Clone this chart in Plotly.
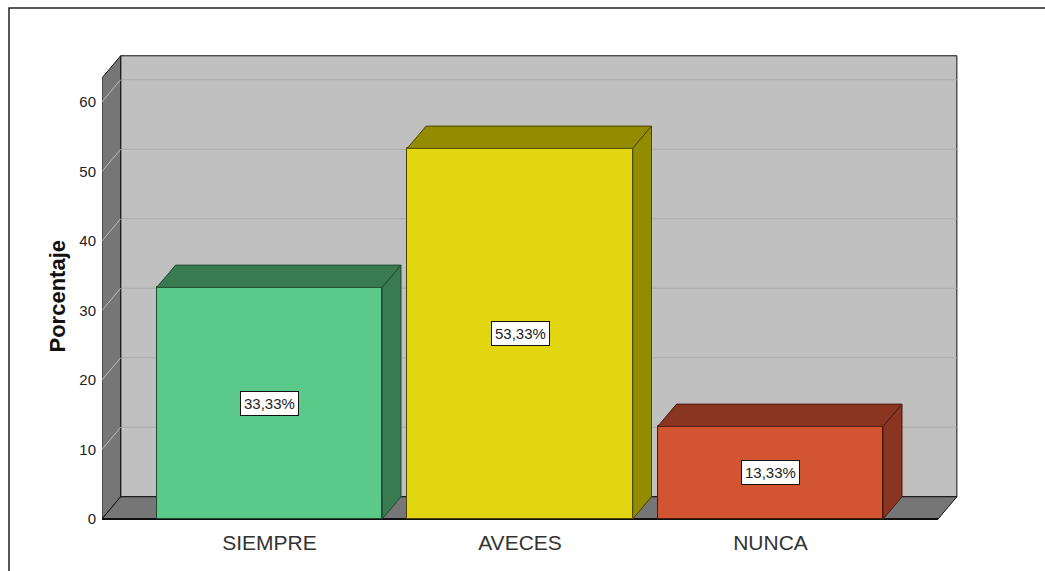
import plotly.graph_objects as go

categories = ["SIEMPRE", "AVECES", "NUNCA"]
values = [33.33, 53.33, 13.33]
value_labels = ["33,33%", "53,33%", "13,33%"]
y_ticks = [0, 10, 20, 30, 40, 50, 60]

front_colors = ["#5BC98A", "#E2D610", "#D25430"]
dark_colors = ["#3A7A52", "#948C00", "#8A3422"]
edge_colors = ["#1E4A30", "#4A4500", "#4A1A10"]

# geometry (data units)
BW = 0.9            # bar width
DX = 0.075          # depth offset in x units
DY = 3.2            # depth offset in y units
X0, X1 = -0.669, 2.669   # floor front edges
H = 63.45           # wall height (front)

fig = go.Figure()

shapes = []
# back wall
shapes.append(dict(type="rect", xref="x", yref="y", layer="below",
                   x0=X0 + DX, x1=X1 + DX, y0=DY, y1=H + DY,
                   fillcolor="#C0C0C0", line=dict(color="#111", width=1)))
# grid lines on back wall
for v in y_ticks[1:]:
    shapes.append(dict(type="line", xref="x", yref="y", layer="below",
                       x0=X0 + DX, x1=X1 + DX, y0=v + DY, y1=v + DY,
                       line=dict(color="#ABABAB", width=1)))
# left wall
shapes.append(dict(type="path", xref="x", yref="y", layer="below",
                   path=f"M {X0},0 L {X0},{H} L {X0+DX},{H+DY} L {X0+DX},{DY} Z",
                   fillcolor="#767676", line=dict(color="#111", width=1)))
# connector lines on left wall
for v in y_ticks[1:]:
    shapes.append(dict(type="line", xref="x", yref="y", layer="below",
                       x0=X0, x1=X0 + DX, y0=v, y1=v + DY,
                       line=dict(color="#BDBDBD", width=1)))
# floor
shapes.append(dict(type="path", xref="x", yref="y", layer="below",
                   path=f"M {X0},0 L {X1},0 L {X1+DX},{DY} L {X0+DX},{DY} Z",
                   fillcolor="#767676", line=dict(color="#111", width=1)))
shapes.append(dict(type="line", xref="x", yref="y", layer="below",
                   x0=X0, x1=X1, y0=0, y1=0, line=dict(color="#111", width=2)))

# bar top and side faces
for i, v in enumerate(values):
    l, r = i - BW / 2, i + BW / 2
    shapes.append(dict(type="path", xref="x", yref="y", layer="above",
                       path=f"M {l},{v} L {l+DX},{v+DY} L {r+DX},{v+DY} L {r},{v} Z",
                       fillcolor=dark_colors[i], line=dict(color=edge_colors[i], width=1)))
    shapes.append(dict(type="path", xref="x", yref="y", layer="above",
                       path=f"M {r},0 L {r},{v} L {r+DX},{v+DY} L {r+DX},{DY} Z",
                       fillcolor=dark_colors[i], line=dict(color=edge_colors[i], width=1)))

# outer frame
shapes.append(dict(type="rect", xref="paper", yref="paper",
                   x0=(9 - 102) / 858, x1=1.3, y0=-0.3, y1=(525 - 8) / 475,
                   line=dict(color="#222", width=1.5), fillcolor="rgba(0,0,0,0)"))

fig.add_trace(go.Bar(
    x=list(range(len(categories))), y=values, width=BW,
    marker=dict(color=front_colors, line=dict(color=edge_colors, width=1)),
    hoverinfo="skip", showlegend=False,
))

annotations = []
for i, v in enumerate(values):
    annotations.append(dict(x=i, y=v / 2, xref="x", yref="y", text=value_labels[i],
                            showarrow=False, bgcolor="white", bordercolor="#111",
                            borderwidth=1, borderpad=3,
                            font=dict(family="Arial, Liberation Sans", size=15, color="#222")))
annotations.append(dict(x=(42 - 102) / 858, y=(525 - 296) / 475, xref="paper", yref="paper",
                        text="<b>Porcentaje</b>", textangle=-90, showarrow=False,
                        font=dict(family="Arial, Liberation Sans", size=22, color="#111")))

fig.update_layout(
    width=1045, height=571,
    margin=dict(l=102, r=85, t=50, b=46),
    paper_bgcolor="white", plot_bgcolor="white",
    shapes=shapes, annotations=annotations,
    xaxis=dict(range=[(102 - 269.5) / 250.5, (960 - 269.5) / 250.5],
               tickvals=list(range(len(categories))), ticktext=categories,
               showgrid=False, zeroline=False, showline=False, ticks="",
               tickfont=dict(family="Arial, Liberation Sans", size=21, color="#333"),
               ticklabelstandoff=3),
    yaxis=dict(range=[(519 - 525) / 6.95, (519 - 50) / 6.95],
               tickvals=y_ticks, showgrid=False, zeroline=False, showline=False, ticks="",
               tickfont=dict(family="Arial, Liberation Sans", size=15, color="#222"),
               ticklabelstandoff=5),
    bargap=0,
)

fig.write_html("out.html")
